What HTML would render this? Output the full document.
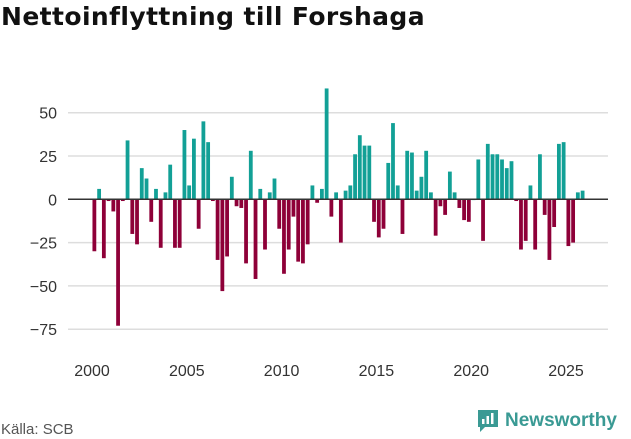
<!DOCTYPE html>
<html><head><meta charset="utf-8"><style>
body{margin:0;background:#fff;width:631px;height:439px;overflow:hidden;font-family:"Liberation Sans",sans-serif}
#title{position:absolute;left:1px;top:2px;font-family:"DejaVu Sans",sans-serif;font-size:25px;font-weight:bold;color:#111;letter-spacing:0.4px;white-space:nowrap}
#src{position:absolute;left:1px;top:421px;font-size:15px;color:#555}
#logo{position:absolute;left:476px;top:408px;display:flex;align-items:center}
#logo span{font-size:19px;font-weight:bold;color:#3a9a94;margin-left:5px}
</style></head><body>
<div id="title">Nettoinflyttning till Forshaga</div>
<svg id="chart" width="631" height="439" style="position:absolute;left:0;top:0"></svg>
<div id="src">Källa: SCB</div>
<div id="logo">
<svg width="24" height="26" viewBox="0 0 24 26"><path d="M2 2h20v17H9l-5 5v-5H2z" fill="#3a9a94"/><rect x="6" y="11" width="2.5" height="5" fill="#fff"/><rect x="10.5" y="8" width="2.5" height="8" fill="#fff"/><rect x="15" y="5" width="2.5" height="11" fill="#fff"/></svg>
<span>Newsworthy</span></div>
<script>
const startYear = 2000;
const values = [-30,6,-34,-1,-7,-73,-1,34,-20,-26,18,12,-13,6,-28,4,20,-28,-28,40,8,35,-17,45,33,-1,-35,-53,-33,13,-4,-5,-37,28,-46,6,-29,4,12,
-17,-43,-29,-10,-36,-37,-26,8,-2,6,64,-10,4,-25,5,8,26,37,31,31,-13,-22,-17,21,44,8,-20,28,27,5,13,28,4,-21,
-4,-9,16,4,-5,-12,-13,0,23,-24,32,26,26,23,18,22,-1,-29,-24,8,-29,26,-9,-35,-16,32,33,-27,-25,4,5];
const yTicks = [50,25,0,-25,-50,-75];
const yTickLabels = ["50","25","0","\u221225","\u221250","\u221275"];
const xTicks = [2000,2005,2010,2015,2020,2025];
const NS="http://www.w3.org/2000/svg";
const svg=document.getElementById('chart');
function x(t){return 92+(t-2000)*18.96;}
function y(v){return 199.3-v*1.732;}
function mk(tag,attrs){const e=document.createElementNS(NS,tag);for(const k in attrs)e.setAttribute(k,attrs[k]);svg.appendChild(e);return e;}
yTicks.forEach((v,i)=>{
 if(v!==0){const g=mk('line',{x1:68,x2:608,y1:y(v),y2:y(v),stroke:'#ddd','stroke-width':1.5});
 
 }
 const t=mk('text',{x:57,y:y(v)+6,'text-anchor':'end','font-size':16,fill:'#333','font-family':'Liberation Sans, sans-serif'});
 t.textContent=yTickLabels[i];
 
 
});
xTicks.forEach(v=>{
 const t=mk('text',{x:x(v),y:376,'text-anchor':'middle','font-size':16,fill:'#333','font-family':'Liberation Sans, sans-serif'});
 t.textContent=v;
 
 
});
values.forEach((v,i)=>{
 const t=startYear+(i+0.5)/4;
 const y0=y(0),y1=y(v);
 const r=mk('rect',{x:x(t)-1.9,y:Math.min(y0,y1),width:3.8,height:Math.max(Math.abs(y1-y0),0.8),fill:v>=0?'#12a096':'#8e0038'});
 
 
});
const z=mk('line',{x1:68,x2:608,y1:y(0),y2:y(0),stroke:'#333','stroke-width':1.5});


</script>
</body></html>
